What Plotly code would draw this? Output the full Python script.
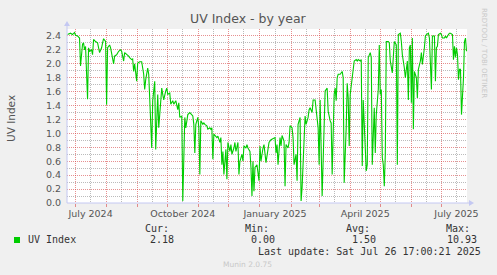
import pandas as pd
import plotly.graph_objects as go

# ---------------- data ----------------
start_date = "2024-06-23"
day_offset = [0, 1, 3, 5, 7, 8, 10, 12, 13, 15, 16, 17, 18, 20, 21, 22, 24, 25, 26, 28, 30, 32, 34, 35, 36, 38, 39, 40,
              42, 43, 44, 46, 47, 49, 51, 53, 54, 56, 57, 59, 61, 62, 64, 65, 66, 67, 69, 70, 72, 74, 76, 77, 78, 80,
              81, 82, 83, 84, 85, 87, 88, 90, 91, 92, 94, 95, 96, 98, 99, 100, 102, 103, 105, 106, 108, 110, 111, 112,
              114, 115, 116, 117, 118, 120, 122, 123, 125, 126, 127, 128, 130, 131, 132, 133, 135, 136, 137, 139, 140,
              142, 143, 144, 145, 146, 148, 149, 150, 152, 153, 154, 155, 156, 158, 159, 160, 162, 163, 164, 166, 167,
              168, 170, 171, 172, 174, 175, 176, 178, 179, 180, 182, 183, 184, 185, 186, 187, 189, 191, 192, 193, 195,
              196, 198, 200, 201, 203, 205, 207, 208, 209, 210, 212, 213, 214, 216, 217, 218, 220, 221, 222, 224, 225,
              226, 228, 229, 230, 232, 233, 234, 236, 237, 238, 240, 241, 242, 244, 245, 247, 248, 250, 251, 252, 254,
              255, 257, 259, 260, 262, 263, 264, 266, 267, 268, 269, 270, 272, 273, 274, 275, 276, 278, 279, 280, 281,
              282, 284, 285, 286, 288, 289, 290, 292, 293, 294, 295, 296, 298, 299, 300, 302, 303, 304, 306, 307, 308,
              310, 311, 312, 313, 314, 315, 316, 317, 318, 320, 321, 322, 324, 325, 326, 328, 329, 330, 332, 333, 334,
              336, 337, 339, 340, 341, 342, 343, 344, 345, 346, 348, 349, 350, 352, 353, 354, 356, 357, 358, 360, 361,
              362, 363, 364, 366, 367, 368, 369, 370, 372, 373, 374, 376, 377, 378, 380, 381, 382, 384, 385, 386, 387,
              388, 389, 390, 391, 392, 393, 395, 396, 397, 398]
uv_index = [2.42, 2.43, 2.44, 2.42, 2.45, 2.41, 2.40, 2.37, 1.97, 2.28, 2.30, 2.20, 2.25, 1.49, 2.23, 2.18, 2.20, 2.13,
            2.35, 2.32, 2.30, 2.16, 2.23, 2.30, 2.36, 2.32, 1.41, 2.23, 2.27, 2.23, 2.13, 2.00, 2.11, 2.13, 2.18, 2.20,
            2.18, 2.04, 2.16, 2.14, 2.11, 2.09, 2.06, 2.07, 1.89, 2.00, 1.75, 2.01, 2.03, 2.03, 1.85, 1.63, 1.77, 1.94,
            1.85, 1.51, 1.18, 0.79, 1.47, 1.75, 0.77, 1.56, 1.08, 1.27, 1.65, 1.56, 1.48, 1.61, 1.65, 1.56, 1.58, 1.42,
            1.47, 1.42, 1.47, 1.34, 1.44, 1.23, 1.25, 0.03, 0.79, 1.23, 1.08, 1.27, 1.30, 1.28, 1.25, 1.13, 0.72, 1.13,
            1.23, 1.08, 0.41, 1.18, 1.13, 1.15, 1.13, 1.11, 1.06, 1.08, 1.06, 1.08, 0.63, 0.99, 0.96, 0.94, 0.96, 0.87,
            0.94, 0.55, 0.74, 0.41, 0.77, 0.34, 0.87, 0.74, 0.84, 0.70, 0.79, 0.87, 0.74, 0.87, 0.41, 0.60, 0.70, 0.60,
            0.82, 0.79, 0.84, 0.79, 0.74, 0.51, 0.10, 0.60, 0.17, 0.51, 0.55, 0.32, 0.82, 0.60, 0.79, 0.84, 0.58, 0.82,
            0.87, 0.91, 0.92, 0.94, 0.72, 0.84, 0.55, 0.94, 0.82, 0.97, 0.89, 0.24, 0.84, 0.79, 0.87, 1.11, 1.08, 0.94,
            0.55, 0.70, 0.32, 1.13, 1.23, 0.03, 0.22, 0.99, 1.25, 1.13, 1.23, 1.34, 1.37, 1.30, 1.48, 1.48, 1.32, 1.08,
            0.55, 1.48, 0.10, 0.65, 1.61, 1.65, 1.32, 1.18, 1.15, 0.41, 1.56, 1.65, 1.47, 1.80, 1.85, 1.85, 1.87, 1.89,
            1.80, 0.29, 1.08, 1.72, 1.51, 0.82, 1.56, 1.85, 1.99, 2.04, 2.06, 2.04, 2.06, 2.04, 2.06, 0.53, 1.48, 1.08,
            0.46, 0.55, 2.09, 2.16, 2.09, 0.55, 1.37, 0.72, 1.27, 1.63, 2.27, 1.56, 1.63, 0.65, 0.55, 0.24, 0.70, 2.32,
            2.32, 2.30, 2.04, 1.87, 2.23, 2.32, 2.27, 0.55, 2.42, 2.44, 2.32, 2.13, 1.94, 1.80, 2.04, 1.48, 2.23, 2.27,
            1.44, 2.37, 1.06, 1.89, 1.80, 1.51, 1.92, 2.04, 2.16, 1.99, 2.23, 2.40, 2.42, 2.44, 2.37, 1.94, 1.63, 2.40,
            2.40, 1.75, 2.23, 2.25, 2.42, 2.44, 2.42, 2.37, 2.37, 2.40, 2.37, 2.42, 2.44, 2.44, 2.42, 2.06, 2.25, 2.09,
            2.23, 2.13, 1.77, 1.92, 1.92, 1.27, 1.80, 2.32, 2.37, 2.18]

x_range = ["2024-06-22 12:00", "2025-07-26 12:00"]
tick_labels = {"2024-07": "July 2024", "2024-10": "October 2024", "2025-01": "January 2025",
               "2025-04": "April 2025", "2025-07": "July 2025"}
legend_name = "UV Index"
stat_labels = ["Cur:", "Min:", "Avg:", "Max:"]
stat_values = ["2.18", "0.00", "1.50", "10.93"]
last_update = "Last update: Sat Jul 26 17:00:21 2025"

# ---------------- figure ----------------
dates = pd.Timestamp(start_date) + pd.to_timedelta(day_offset, unit="D")
month_starts = pd.date_range("2024-07-01", "2025-07-01", freq="MS")
mid_months = month_starts + pd.Timedelta(days=15)
mid_text = [tick_labels.get(d.strftime("%Y-%m"), "") for d in mid_months]

W, H = 497, 275
L, R, T, B = 67, 30, 29, 72
PW, PH = W - L - R, H - T - B


def px(x):
    return (x - L) / PW


def py(y):
    return (H - B - y) / PH


GREEN = "#00CC00"
RED_GRID = "rgba(215,70,70,0.6)"
GRAY_GRID = "rgba(150,150,150,0.65)"
AXIS = "#C4C8F2"
TXT = "#555555"

fig = go.Figure(go.Scatter(x=dates, y=uv_index, mode="lines",
                           line=dict(color=GREEN, width=1.1), hoverinfo="skip"))

fig.update_layout(
    width=W, height=H, margin=dict(l=L, r=R, t=T, b=B, pad=0),
    paper_bgcolor="#F0F0F0", plot_bgcolor="#FFFFFF", showlegend=False,
    font=dict(family="DejaVu Sans", size=9.5, color=TXT),
)

fig.update_xaxes(
    type="date", range=x_range, tickmode="array", tickvals=mid_months, ticktext=mid_text,
    ticks="", showgrid=True, gridcolor=GRAY_GRID, griddash="1px,1px", gridwidth=1,
    ticklabelstandoff=3, zeroline=False, showline=False,
    minor=dict(tickmode="array", tickvals=month_starts, showgrid=True, gridcolor=RED_GRID,
               griddash="1px,1px", gridwidth=1, ticks="outside", ticklen=3, tickcolor=RED_GRID),
    tickfont=dict(size=9.5, color=TXT),
)
fig.update_yaxes(
    range=[0, 2.5], tick0=0, dtick=0.2, tickformat=".1f", ticks="",
    showgrid=True, gridcolor=RED_GRID, griddash="1px,1px", gridwidth=1,
    zeroline=False, showline=False, ticklabelstandoff=5,
    minor=dict(dtick=0.1, tick0=0, showgrid=True, gridcolor=GRAY_GRID, griddash="1px,1px", gridwidth=1),
    tickfont=dict(size=9.5, color=TXT),
)

shapes = [
    dict(type="line", xref="paper", yref="paper", x0=0, y0=0, x1=0, y1=py(25), line=dict(color=AXIS, width=1)),
    dict(type="line", xref="paper", yref="paper", x0=0, y0=0, x1=px(470), y1=0, line=dict(color=AXIS, width=1)),
    dict(type="path", xref="paper", yref="paper",
         path=f"M {px(64)} {py(26)} L {px(70)} {py(26)} L {px(67)} {py(21)} Z",
         fillcolor=AXIS, line=dict(color=AXIS, width=0)),
    dict(type="path", xref="paper", yref="paper",
         path=f"M {px(469)} {py(200)} L {px(469)} {py(206)} L {px(474)} {py(203)} Z",
         fillcolor=AXIS, line=dict(color=AXIS, width=0)),
    dict(type="rect", xref="paper", yref="paper", x0=px(14), x1=px(20), y0=py(243), y1=py(237),
         fillcolor=GREEN, line=dict(width=0)),
]
fig.update_layout(shapes=shapes)

MONO = "DejaVu Sans Mono"
ann = [
    dict(text="UV Index - by year", x=px(248), y=py(19), font=dict(family="DejaVu Sans", size=12.5, color=TXT)),
    dict(text="UV Index", x=px(11), y=py(118), textangle=-90, font=dict(family="DejaVu Sans", size=10.5, color=TXT)),
    dict(text="RRDTOOL / TOBI OETIKER", x=px(484), y=py(53), textangle=90,
         font=dict(family="DejaVu Sans", size=7, color="#C8C8C8")),
    dict(text=legend_name, x=px(26), y=py(239.5), xanchor="left", font=dict(family=MONO, size=10, color="#333333")),
    dict(text=last_update, x=px(482.5), y=py(251), xanchor="right", font=dict(family=MONO, size=10, color="#333333")),
    dict(text="Munin 2.0.75", x=px(247.5), y=py(264.5), font=dict(family="DejaVu Sans", size=7.5, color="#C8C8C8")),
]
label_cx = [156.7, 257, 358, 458]
value_cx = [162.3, 263, 364, 461.7]
for lab, val, lc, vc in zip(stat_labels, stat_values, label_cx, value_cx):
    ann.append(dict(text=lab, x=px(lc), y=py(228.5), font=dict(family=MONO, size=10, color="#333333")))
    ann.append(dict(text=val, x=px(vc), y=py(239.5), font=dict(family=MONO, size=10, color="#333333")))
for a in ann:
    a.setdefault("xanchor", "center")
    a.update(xref="paper", yref="paper", yanchor="middle", showarrow=False)
fig.update_layout(annotations=ann)

fig.write_html("out.html")
